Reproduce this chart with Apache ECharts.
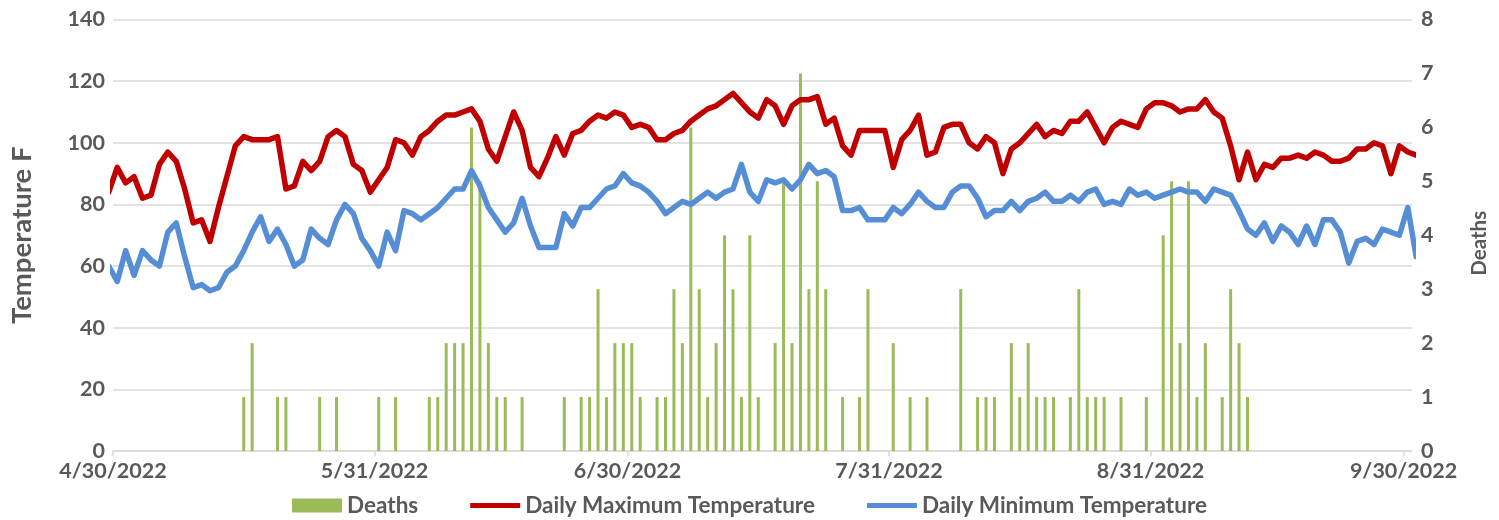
<!DOCTYPE html>
<html>
<head>
<meta charset="utf-8">
<script src="https://cdn.jsdelivr.net/npm/echarts@6/dist/echarts.min.js"></script>
<style>
html,body{margin:0;padding:0;background:#fff;}
#chart{width:1499px;height:520px;}
</style>
</head>
<body>
<div id="chart"></div>
<script>
// Daily values. Temperature series start on 4/29/2022 (one day before the axis start, clipped) and end 10/1/2022.
const tempStart = '2022-04-29';
const maxTemp = [84,
 92,87,89,82,83,93,97,94,85,74,
 75,68,79,89,99,102,101,101,101,102,
 85,86,94,91,94,102,104,102,93,91,
 84,88,92,101,100,96,102,104,107,109,
 109,110,111,107,98,94,102,110,104,92,
 89,95,102,96,103,104,107,109,108,110,
 109,105,106,105,101,101,103,104,107,109,
 111,112,114,116,113,110,108,114,112,106,
 112,114,114,115,106,108,99,96,104,104,
 104,104,92,101,104,109,96,97,105,106,
 106,100,98,102,100,90,98,100,103,106,
 102,104,103,107,107,110,105,100,105,107,
 106,105,111,113,113,112,110,111,111,114,
 110,108,99,88,97,88,93,92,95,95,
 96,95,97,96,94,94,95,98,98,100,
 99,90,99,97,96];
const minTemp = [60,
 55,65,57,65,62,60,71,74,63,53,
 54,52,53,58,60,65,71,76,68,72,
 67,60,62,72,69,67,75,80,77,69,
 65,60,71,65,78,77,75,77,79,82,
 85,85,91,86,79,75,71,74,82,73,
 66,66,66,77,73,79,79,82,85,86,
 90,87,86,84,81,77,79,81,80,82,
 84,82,84,85,93,84,81,88,87,88,
 85,88,93,90,91,89,78,78,79,75,
 75,75,79,77,80,84,81,79,79,84,
 86,86,82,76,78,78,81,78,81,82,
 84,81,81,83,81,84,85,80,81,80,
 85,83,84,82,83,84,85,84,84,81,
 85,84,83,78,72,70,74,68,73,71,
 67,73,67,75,75,71,61,68,69,67,
 72,71,70,79,63];
// Deaths per day, 4/30/2022 .. 9/30/2022
const deathsStart = '2022-04-30';
const deaths = [
 0,0,0,0,0,0,0,0,0,0,
 0,0,0,0,0,1,2,0,0,1,
 1,0,0,0,1,0,1,0,0,0,
 0,1,0,1,0,0,0,1,1,2,
 2,2,6,5,2,1,1,0,1,0,
 0,0,0,1,0,1,1,3,1,2,
 2,2,1,0,1,1,3,2,6,3,
 1,2,4,3,1,4,1,0,2,5,
 2,7,3,5,3,0,1,0,1,3,
 0,0,2,0,1,0,1,0,0,0,
 3,0,1,1,1,0,2,1,2,1,
 1,1,0,1,3,1,1,1,0,1,
 0,0,1,0,4,5,2,5,1,2,
 0,1,3,2,1,0,0,0,0,0,
 0,0,0,0,0,0,0,0,0,0,
 0,0,0,0];
const tickDays = [0,31,61,92,123,153];
const tickLabels = ['4/30/2022','5/31/2022','6/30/2022','7/31/2022','8/31/2022','9/30/2022'];
const axisStart = '2022-04-30';
const axisDays = 154;

const DAY = 86400000;
function dayIndex(s){ return Math.round((Date.parse(s) - Date.parse(axisStart)) / DAY); }
const tOff = dayIndex(tempStart), dOff = dayIndex(deathsStart);
const maxData = maxTemp.map((v,i)=>[tOff + i + 0.5, v]);
const minData = minTemp.map((v,i)=>[tOff + i + 0.5, v]);
const deathData = deaths.map((v,i)=>[dOff + i + 0.5, v]);

const FONT = 'Lato';
const GRAY = '#595959';
const LINE_ICON = 'path://M0,0 L50,0 L50,5 L0,5 Z';
const chart = echarts.init(document.getElementById('chart'), null, {renderer:'canvas'});
chart.setOption({
  animation:false,
  backgroundColor:'#ffffff',
  textStyle:{fontFamily:FONT},
  grid:{left:108.5, right:87, top:19.5, bottom:69, containLabel:false},
  legend:{
    top:489, left:'center', itemWidth:50, itemHeight:14, itemGap:52,
    textStyle:{fontFamily:FONT, fontSize:22.5, fontWeight:'bold', color:GRAY},
    data:[{name:'Deaths', icon:'rect'},
          {name:'Daily Maximum Temperature', icon:LINE_ICON},
          {name:'Daily Minimum Temperature', icon:LINE_ICON}]
  },
  xAxis:{
    type:'value', min:0, max:axisDays,
    splitLine:{show:false},
    axisLine:{show:true, lineStyle:{color:'#D9D9D9', width:1.5}},
    axisTick:{show:true, customValues:tickDays, length:5, lineStyle:{color:'#D9D9D9', width:1.5}},
    axisLabel:{customValues:tickDays, formatter:(v)=>tickLabels[tickDays.indexOf(Math.round(v))] || '',
      fontFamily:FONT, fontSize:21.5, fontWeight:'bold', color:GRAY, margin:9, showMinLabel:true, showMaxLabel:true}
  },
  yAxis:[{
    type:'value', min:0, max:140, interval:20,
    name:'Temperature F', nameLocation:'middle', nameGap:77, nameRotate:90,
    nameTextStyle:{fontFamily:FONT, fontSize:27.5, fontWeight:'bold', color:GRAY},
    axisLine:{show:false}, axisTick:{show:false},
    axisLabel:{fontFamily:FONT, fontSize:21.5, fontWeight:'bold', color:GRAY, margin:8},
    splitLine:{show:true, lineStyle:{color:'#D9D9D9', width:1.5}}
  },{
    type:'value', min:0, max:8, interval:1, position:'right',
    name:'Deaths', nameLocation:'middle', nameGap:57, nameRotate:90,
    nameTextStyle:{fontFamily:FONT, fontSize:20.5, fontWeight:'bold', color:GRAY, padding:[0,16,0,0]},
    axisLine:{show:false}, axisTick:{show:false},
    axisLabel:{fontFamily:FONT, fontSize:21.5, fontWeight:'bold', color:GRAY, margin:9},
    splitLine:{show:false}
  }],
  series:[{
    name:'Deaths', type:'bar', yAxisIndex:1, data:deathData, barWidth:3,
    itemStyle:{color:'#9BBB59'}, z:1
  },{
    name:'Daily Maximum Temperature', type:'line', yAxisIndex:0, data:maxData,
    symbol:'none', showSymbol:false, clip:true,
    lineStyle:{color:'#C00000', width:5.5, cap:'round', join:'round'}, itemStyle:{color:'#C00000'}, z:3
  },{
    name:'Daily Minimum Temperature', type:'line', yAxisIndex:0, data:minData,
    symbol:'none', showSymbol:false, clip:true,
    lineStyle:{color:'#558ED5', width:5.5, cap:'round', join:'round'}, itemStyle:{color:'#558ED5'}, z:3
  }]
});
</script>
</body>
</html>
